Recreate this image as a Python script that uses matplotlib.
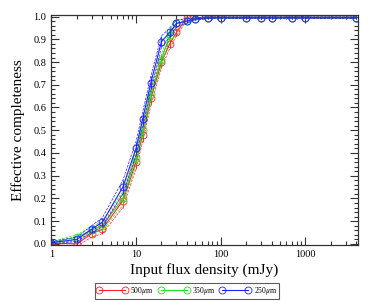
import numpy as np
import matplotlib
matplotlib.use("Agg")
import matplotlib.pyplot as plt
from matplotlib.ticker import FixedLocator, NullFormatter, MultipleLocator

plt.rcParams['font.family'] = ['Liberation Serif', 'DejaVu Serif']
plt.rcParams['mathtext.fontset'] = 'stix'

flux = [1, 2, 3, 4, 7, 10, 12, 15, 20, 25, 30, 40, 50, 70, 100, 200, 300, 400, 700, 1000, 4000]
c500 = [0.003, 0.0, 0.045, 0.065, 0.19, 0.36, 0.48, 0.64, 0.80, 0.88, 0.93, 0.995, 0.99, 0.995, 0.995, 0.995, 0.995, 0.995, 0.995, 0.995, 0.995]
c350 = [0.005, 0.03, 0.06, 0.08, 0.20, 0.38, 0.50, 0.66, 0.81, 0.92, 0.97, 0.98, 0.99, 0.995, 0.995, 0.995, 0.995, 0.995, 0.995, 0.995, 0.995]
c250 = [0.005, 0.02, 0.065, 0.095, 0.25, 0.42, 0.55, 0.71, 0.89, 0.93, 0.97, 0.98, 0.99, 0.995, 0.995, 0.995, 0.995, 0.995, 0.995, 0.995, 0.995]
err = [0.005, 0.01, 0.015, 0.02, 0.03, 0.03, 0.03, 0.03, 0.025, 0.02, 0.015, 0.01, 0.005, 0.004, 0.004, 0.004, 0.004, 0.004, 0.004, 0.004, 0.004]
labels = [r'500$\mu$m', r'350$\mu$m', r'250$\mu$m']
colors = ['#ff2020', '#20e020', '#2020ff']

fig = plt.figure(figsize=(3.74, 3.03), dpi=100)
ax = fig.add_axes([51/374, 1-245/303, 307/374, 230/303])

handles = []
for y, c, lab in zip([c500, c350, c250], colors, labels):
    y = np.array(y); e = np.array(err)
    ax.errorbar(flux, y, yerr=e, fmt='none', ecolor=c, elinewidth=0.6, capsize=0)
    ax.plot(flux, y + e, '--', color=c, lw=0.5)
    ax.plot(flux, y - e, '--', color=c, lw=0.5)
    h, = ax.plot(flux, y, '-', color=c, lw=0.8, marker='o', ms=5, mfc='none', mec=c, mew=0.6, label=lab)
    handles.append(h)

ax.set_xscale('log')
ax.set_xlim(0.99, 4200)
ax.set_ylim(-0.005, 1.007)
ax.set_xticks([1, 10, 100, 1000])
ax.set_xticklabels(['1', '10', '100', '1000'])
ax.xaxis.set_minor_locator(FixedLocator([m * 10**k for k in range(0, 4) for m in range(2, 10)]))
ax.xaxis.set_minor_formatter(NullFormatter())
ax.set_yticks(np.arange(0, 1.01, 0.1))
ax.set_yticklabels(['%.1f' % v for v in np.arange(0, 1.01, 0.1)])
ax.yaxis.set_minor_locator(MultipleLocator(0.02))
ax.tick_params(which='both', direction='in', top=True, right=True, labelsize=7.5, width=0.8, colors='#333333', labelcolor='black')
ax.tick_params(which='major', length=6)
ax.tick_params(which='minor', length=3)
for s in ax.spines.values():
    s.set_linewidth(0.9)
    s.set_color('#333333')
ax.set_xlabel('Input flux density (mJy)', fontsize=11, labelpad=3)
ax.set_ylabel('Effective completeness', fontsize=11, labelpad=6)

leg = fig.legend(handles=handles, loc='center', bbox_to_anchor=(187/374, 1-291/303), ncol=3,
                 fontsize=5.5, numpoints=2, frameon=True, fancybox=False, shadow=False,
                 edgecolor='#333333', handlelength=4, columnspacing=0.6, handletextpad=0.4,
                 borderpad=0.3, labelspacing=0.2)
leg.get_frame().set_linewidth(0.8)

fig.savefig('out.png', dpi=100)
